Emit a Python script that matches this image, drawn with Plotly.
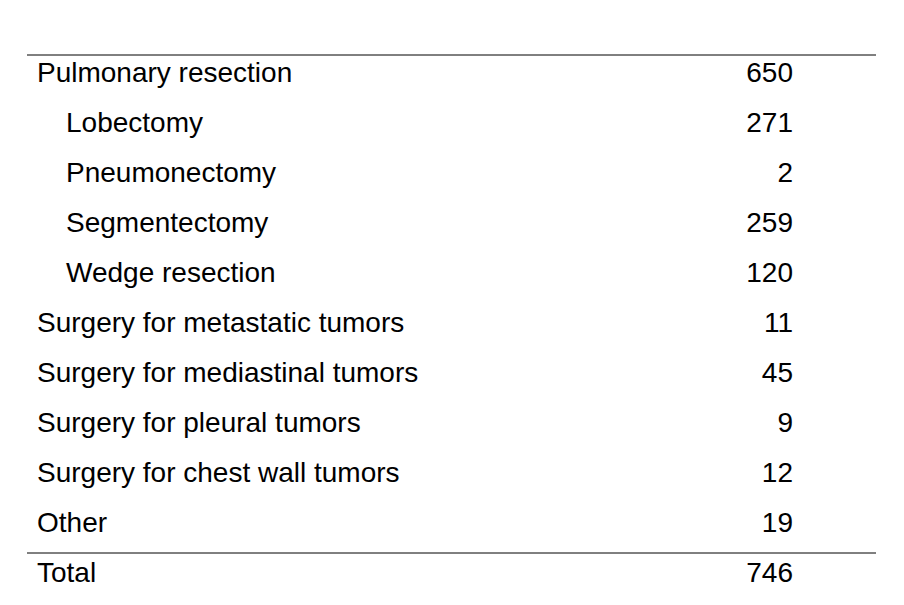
import plotly.graph_objects as go

labels = [
    "Pulmonary resection", "Lobectomy", "Pneumonectomy", "Segmentectomy",
    "Wedge resection", "Surgery for metastatic tumors",
    "Surgery for mediastinal tumors", "Surgery for pleural tumors",
    "Surgery for chest wall tumors", "Other", "Total",
]
counts = [650, 271, 2, 259, 120, 11, 45, 9, 12, 19, 746]
indented = [False, True, True, True, True, False, False, False, False, False, False]

rows = list(range(len(labels)))
label_x = [58 if ind else 29 for ind in indented]

fig = go.Figure()
fig.add_trace(go.Scatter(
    x=label_x, y=rows, mode="text", text=labels,
    textposition="middle right",
    textfont=dict(family="Liberation Sans, Arial", size=28, color="black"),
    hoverinfo="skip",
))
fig.add_trace(go.Scatter(
    x=[785] * len(counts), y=rows, mode="text", text=[str(c) for c in counts],
    textposition="middle left",
    textfont=dict(family="Liberation Sans, Arial", size=28, color="black"),
    hoverinfo="skip",
))

# rules: top of table and above the total row
for yy in [-0.4, len(labels) - 1.44]:
    fig.add_shape(type="line", x0=19, x1=868, y0=yy, y1=yy,
                  line=dict(color="black", width=1))

fig.update_layout(
    width=904, height=605, showlegend=False,
    paper_bgcolor="white", plot_bgcolor="white",
    margin=dict(l=0, r=0, t=0, b=0),
)
fig.update_xaxes(visible=False, range=[0, 904])
fig.update_yaxes(visible=False, range=[10.76, -1.34])
fig.write_html("out.html")
